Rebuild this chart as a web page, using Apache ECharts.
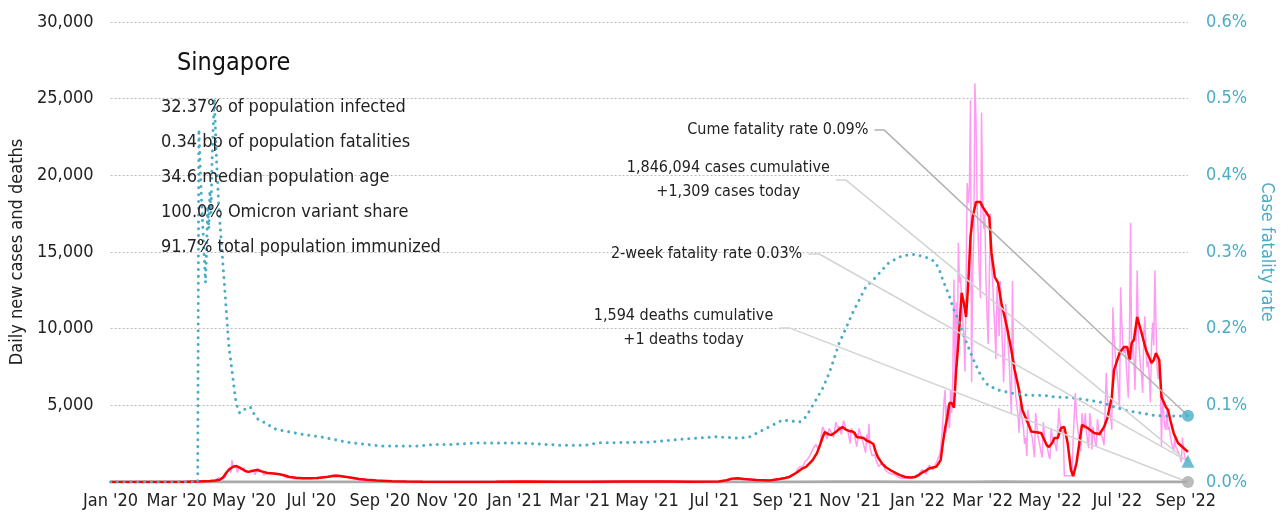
<!DOCTYPE html>
<html>
<head>
<meta charset="utf-8">
<title>Singapore COVID-19</title>
<script src="https://cdn.jsdelivr.net/npm/echarts@6/dist/echarts.min.js"></script>
<style>
  html, body { margin: 0; padding: 0; background: #ffffff; }
  #chart { width: 1284px; height: 520px; }
</style>
</head>
<body>
<div id="chart"></div>
<script>
// ---------- data ----------
const FIRST_DAY = '2020-01-01';
const LAST_DAY = '2022-09-03';
const MONTHS = ['Jan','Feb','Mar','Apr','May','Jun','Jul','Aug','Sep','Oct','Nov','Dec'];

const statLines = [
  '32.37% of population infected',
  '0.34 bp of population fatalities',
  '34.6 median population age',
  '100.0% Omicron variant share',
  '91.7% total population immunized'
];

const cumCases = 1846094;
const casesToday = 1309;
const cumDeaths = 1594;
const deathsToday = 1;
const twoWeekRate = 0.027;                 // % of cases, last 14 days
const cumRate = cumDeaths / cumCases * 100; // % of cases, all time

// 7-day average of new cases
const avgCases = [
  ['2020-01-01',0],['2020-02-01',2],['2020-02-20',4],['2020-03-10',10],['2020-03-20',35],['2020-03-31',60],
  ['2020-04-05',100],['2020-04-09',150],['2020-04-12',300],['2020-04-15',620],['2020-04-18',850],['2020-04-21',990],
  ['2020-04-24',1040],['2020-04-28',900],['2020-05-02',720],['2020-05-05',660],['2020-05-09',730],['2020-05-13',780],
  ['2020-05-17',690],['2020-05-22',590],['2020-05-28',560],['2020-06-02',510],['2020-06-07',420],['2020-06-11',330],
  ['2020-06-17',280],['2020-06-23',250],['2020-06-30',240],['2020-07-06',260],['2020-07-11',300],['2020-07-16',340],
  ['2020-07-22',400],['2020-07-27',390],['2020-08-02',330],['2020-08-08',260],['2020-08-13',200],['2020-08-20',140],
  ['2020-08-29',90],['2020-09-12',45],['2020-09-25',25],['2020-10-10',10],['2020-11-15',8],['2020-12-15',12],
  ['2021-01-10',25],['2021-02-10',20],['2021-03-10',15],['2021-04-10',25],['2021-05-05',25],['2021-05-20',40],
  ['2021-06-10',20],['2021-07-05',30],['2021-07-12',110],['2021-07-17',220],['2021-07-22',240],['2021-07-28',200],
  ['2021-08-08',130],['2021-08-20',100],['2021-08-29',190],['2021-09-03',260],['2021-09-07',330],['2021-09-13',590],
  ['2021-09-18',850],['2021-09-22',980],['2021-09-28',1430],['2021-10-02',1900],['2021-10-04',2280],['2021-10-07',2900],
  ['2021-10-09',3260],['2021-10-12',3120],['2021-10-15',3060],['2021-10-19',3260],['2021-10-22',3450],['2021-10-25',3590],
  ['2021-10-28',3420],['2021-10-31',3330],['2021-11-03',3290],['2021-11-05',3200],['2021-11-07',2930],['2021-11-10',2900],
  ['2021-11-13',2870],['2021-11-16',2700],['2021-11-19',2610],['2021-11-22',2480],['2021-11-24',2000],['2021-11-26',1630],
  ['2021-11-30',1200],['2021-12-03',980],['2021-12-08',750],['2021-12-12',590],['2021-12-16',450],['2021-12-21',330],
  ['2021-12-26',290],['2021-12-30',330],['2022-01-03',500],['2022-01-06',650],['2022-01-09',760],['2022-01-12',900],
  ['2022-01-15',950],['2022-01-18',1000],['2022-01-20',1200],['2022-01-22',1450],['2022-01-24',2540],['2022-01-26',3500],
  ['2022-01-28',4240],['2022-01-30',5150],['2022-02-01',5150],['2022-02-03',4850],['2022-02-05',7300],['2022-02-07',9070],
  ['2022-02-10',12330],['2022-02-12',11670],['2022-02-14',10760],['2022-02-16',12980],['2022-02-18',15980],['2022-02-20',17280],
  ['2022-02-23',18260],['2022-02-27',18260],['2022-03-01',17940],['2022-03-04',17610],['2022-03-07',17280],['2022-03-09',14940],
  ['2022-03-12',13370],['2022-03-15',12980],['2022-03-18',11670],['2022-03-23',10110],['2022-03-27',8610],['2022-03-30',7300],
  ['2022-04-03',6000],['2022-04-06',4700],['2022-04-11',3850],['2022-04-14',3300],['2022-04-17',3260],['2022-04-23',3200],
  ['2022-04-28',2410],['2022-04-30',2280],['2022-05-03',2540],['2022-05-05',2870],['2022-05-08',2870],['2022-05-11',3520],
  ['2022-05-14',3590],['2022-05-17',2540],['2022-05-20',780],['2022-05-22',380],['2022-05-25',1240],['2022-05-28',2740],
  ['2022-05-30',3720],['2022-06-04',3520],['2022-06-10',3200],['2022-06-15',3130],['2022-06-19',3590],['2022-06-22',4170],
  ['2022-06-26',5540],['2022-06-28',7300],['2022-07-03',8410],['2022-07-07',8800],['2022-07-10',8800],['2022-07-12',7960],
  ['2022-07-14',9070],['2022-07-16',9260],['2022-07-19',10760],['2022-07-23',9720],['2022-07-27',8610],['2022-08-01',7760],
  ['2022-08-03',7960],['2022-08-05',8410],['2022-08-08',7960],['2022-08-10',5540],['2022-08-14',4890],['2022-08-16',4700],
  ['2022-08-18',4040],['2022-08-21',3200],['2022-08-25',2540],['2022-08-30',2220],['2022-09-03',1960]
];

// reported new cases per day
const dailyCases = [
  ['2020-01-01',0],['2020-03-15',20],['2020-03-31',50],['2020-04-05',120],['2020-04-08',280],['2020-04-10',190],
  ['2020-04-12',230],['2020-04-14',330],['2020-04-15',450],['2020-04-16',730],['2020-04-17',620],['2020-04-18',940],
  ['2020-04-19',600],['2020-04-20',1430],['2020-04-21',1100],['2020-04-22',1030],['2020-04-23',1040],['2020-04-24',900],
  ['2020-04-25',620],['2020-04-26',930],['2020-04-28',800],['2020-05-01',930],['2020-05-03',650],['2020-05-05',630],
  ['2020-05-07',750],['2020-05-09',750],['2020-05-11',480],['2020-05-13',880],['2020-05-15',790],['2020-05-17',680],
  ['2020-05-19',450],['2020-05-21',570],['2020-05-24',640],['2020-05-27',530],['2020-05-30',510],['2020-06-03',520],
  ['2020-06-06',380],['2020-06-09',280],['2020-06-12',350],['2020-06-15',210],['2020-06-18',200],['2020-06-21',250],
  ['2020-06-24',200],['2020-06-27',220],['2020-07-01',210],['2020-07-04',280],['2020-07-07',200],['2020-07-10',360],
  ['2020-07-13',320],['2020-07-16',350],['2020-07-20',470],['2020-07-23',480],['2020-07-26',440],['2020-07-29',300],
  ['2020-08-01',360],['2020-08-04',300],['2020-08-07',250],['2020-08-10',200],['2020-08-14',110],['2020-08-18',100],
  ['2020-08-22',110],['2020-08-26',90],['2020-08-30',60],['2020-09-05',40],['2020-09-15',30],['2020-09-25',20],
  ['2020-10-10',10],['2020-11-01',10],['2020-12-01',10],['2021-01-01',25],['2021-02-01',20],['2021-03-01',15],
  ['2021-04-01',25],['2021-05-01',30],['2021-05-20',45],['2021-06-15',20],['2021-07-05',30],['2021-07-12',100],
  ['2021-07-16',250],['2021-07-19',180],['2021-07-22',190],['2021-07-25',150],['2021-07-29',200],['2021-08-02',140],
  ['2021-08-08',110],['2021-08-15',90],['2021-08-22',100],['2021-08-28',170],['2021-09-01',180],['2021-09-07',400],
  ['2021-09-10',500],['2021-09-13',650],['2021-09-15',900],['2021-09-17',1000],['2021-09-19',1000],['2021-09-21',1300],
  ['2021-09-23',1450],['2021-09-25',1650],['2021-09-27',1950],['2021-09-29',2250],['2021-10-01',2450],['2021-10-03',2100],
  ['2021-10-05',2600],['2021-10-07',3600],['2021-10-08',3650],['2021-10-09',3300],['2021-10-11',2800],['2021-10-13',3500],
  ['2021-10-15',3200],['2021-10-17',2900],['2021-10-19',3900],['2021-10-20',3850],['2021-10-21',3450],['2021-10-22',3650],
  ['2021-10-24',3100],['2021-10-26',4000],['2021-10-27',3800],['2021-10-28',3450],['2021-10-30',3300],['2021-11-01',2500],
  ['2021-11-02',3500],['2021-11-03',3500],['2021-11-05',3000],['2021-11-07',2300],['2021-11-09',3500],['2021-11-10',3500],
  ['2021-11-11',3000],['2021-11-13',2500],['2021-11-15',1900],['2021-11-16',3100],['2021-11-17',2500],['2021-11-18',3800],
  ['2021-11-19',2200],['2021-11-21',1700],['2021-11-23',1800],['2021-11-25',1300],['2021-11-27',1000],['2021-11-29',1200],
  ['2021-12-01',1100],['2021-12-03',750],['2021-12-06',600],['2021-12-09',500],['2021-12-12',450],['2021-12-15',300],
  ['2021-12-18',250],['2021-12-21',260],['2021-12-24',250],['2021-12-28',300],['2021-12-31',450],['2022-01-02',350],
  ['2022-01-03',600],['2022-01-04',650],['2022-01-05',800],['2022-01-06',850],['2022-01-07',700],['2022-01-08',600],
  ['2022-01-09',500],['2022-01-10',900],['2022-01-11',1000],['2022-01-12',1100],['2022-01-13',900],['2022-01-14',850],
  ['2022-01-15',800],['2022-01-16',700],['2022-01-17',1100],['2022-01-18',1150],['2022-01-19',1400],['2022-01-20',1600],
  ['2022-01-21',1800],['2022-01-22',2200],['2022-01-23',3000],['2022-01-24',4000],['2022-01-25',5300],['2022-01-26',6000],
  ['2022-01-27',3200],['2022-01-28',5000],['2022-01-29',4200],['2022-01-30',3500],['2022-01-31',6000],['2022-02-01',4500],
  ['2022-02-02',7000],['2022-02-03',13200],['2022-02-04',6500],['2022-02-05',11700],['2022-02-06',7500],['2022-02-07',15600],
  ['2022-02-08',13000],['2022-02-09',13400],['2022-02-10',11800],['2022-02-11',10500],['2022-02-12',9500],['2022-02-13',7200],
  ['2022-02-14',13000],['2022-02-15',19500],['2022-02-16',18200],['2022-02-17',19200],['2022-02-18',24900],['2022-02-19',6500],
  ['2022-02-20',13600],['2022-02-21',16000],['2022-02-22',26000],['2022-02-23',23600],['2022-02-24',18200],['2022-02-25',16000],
  ['2022-02-26',13600],['2022-02-27',12000],['2022-02-28',24100],['2022-03-01',18600],['2022-03-02',16500],['2022-03-03',17500],
  ['2022-03-04',13200],['2022-03-05',11000],['2022-03-06',9000],['2022-03-07',13200],['2022-03-08',17500],['2022-03-09',14000],
  ['2022-03-10',13200],['2022-03-11',11500],['2022-03-12',10000],['2022-03-13',8000],['2022-03-14',12800],['2022-03-15',11500],
  ['2022-03-16',9500],['2022-03-17',13100],['2022-03-18',11000],['2022-03-19',8700],['2022-03-20',6500],['2022-03-21',9000],
  ['2022-03-22',11600],['2022-03-23',10100],['2022-03-24',9000],['2022-03-25',8000],['2022-03-26',6000],['2022-03-27',4500],
  ['2022-03-28',13100],['2022-03-29',8000],['2022-03-30',7000],['2022-03-31',5600],['2022-04-01',5000],['2022-04-02',4400],
  ['2022-04-03',3200],['2022-04-04',5100],['2022-04-05',4500],['2022-04-06',4000],['2022-04-07',3500],['2022-04-08',2500],
  ['2022-04-09',2900],['2022-04-10',1700],['2022-04-11',4700],['2022-04-12',4000],['2022-04-13',3300],['2022-04-14',3400],
  ['2022-04-15',2900],['2022-04-16',2200],['2022-04-17',1600],['2022-04-18',4500],['2022-04-19',3800],['2022-04-20',3000],
  ['2022-04-21',2700],['2022-04-22',2600],['2022-04-23',1900],['2022-04-24',1600],['2022-04-25',3900],['2022-04-26',3100],
  ['2022-04-27',2600],['2022-04-28',2400],['2022-04-29',2100],['2022-04-30',1700],['2022-05-01',1500],['2022-05-02',3500],
  ['2022-05-03',3000],['2022-05-04',2800],['2022-05-05',2600],['2022-05-06',2400],['2022-05-07',2000],['2022-05-08',3300],
  ['2022-05-09',4800],['2022-05-10',3900],['2022-05-11',3500],['2022-05-12',3200],['2022-05-13',3400],['2022-05-14',400],
  ['2022-05-21',400],['2022-05-22',2800],['2022-05-24',5800],['2022-05-25',4300],['2022-05-26',3600],['2022-05-27',3000],
  ['2022-05-28',2300],['2022-05-29',2000],['2022-05-30',4500],['2022-05-31',3800],['2022-06-01',3500],['2022-06-02',4500],
  ['2022-06-03',3300],['2022-06-04',2700],['2022-06-05',2200],['2022-06-06',4500],['2022-06-07',3900],['2022-06-08',2100],
  ['2022-06-09',3600],['2022-06-10',3000],['2022-06-11',2600],['2022-06-12',2300],['2022-06-13',4100],['2022-06-14',3500],
  ['2022-06-15',3000],['2022-06-16',3200],['2022-06-17',3000],['2022-06-18',2700],['2022-06-19',2400],['2022-06-20',4800],
  ['2022-06-21',7100],['2022-06-22',5400],['2022-06-23',5000],['2022-06-24',4900],['2022-06-25',4200],['2022-06-26',3400],
  ['2022-06-27',11400],['2022-06-28',9500],['2022-06-29',8500],['2022-06-30',7500],['2022-07-01',7000],['2022-07-02',6000],
  ['2022-07-03',4800],['2022-07-04',12700],['2022-07-05',10500],['2022-07-06',9000],['2022-07-07',8400],['2022-07-08',8800],
  ['2022-07-09',7800],['2022-07-10',6500],['2022-07-11',5500],['2022-07-12',9500],['2022-07-13',16900],['2022-07-14',8000],
  ['2022-07-15',9300],['2022-07-16',8200],['2022-07-17',6000],['2022-07-18',9000],['2022-07-19',13800],['2022-07-20',9700],
  ['2022-07-21',9800],['2022-07-22',7500],['2022-07-23',6900],['2022-07-24',5800],['2022-07-25',9700],['2022-07-26',10800],
  ['2022-07-27',8500],['2022-07-28',7500],['2022-07-29',7900],['2022-07-30',6800],['2022-07-31',5200],['2022-08-01',9000],
  ['2022-08-02',10400],['2022-08-03',8900],['2022-08-04',13800],['2022-08-05',10400],['2022-08-06',7500],['2022-08-07',6700],
  ['2022-08-08',7500],['2022-08-09',6600],['2022-08-10',2300],['2022-08-11',5700],['2022-08-12',4500],['2022-08-13',3600],
  ['2022-08-14',3400],['2022-08-15',4700],['2022-08-16',3400],['2022-08-17',3600],['2022-08-18',3000],['2022-08-19',2600],
  ['2022-08-20',2300],['2022-08-21',2000],['2022-08-22',2900],['2022-08-23',2300],['2022-08-24',2200],['2022-08-25',2000],
  ['2022-08-26',1900],['2022-08-27',1600],['2022-08-28',1300],['2022-08-29',2900],['2022-08-30',2200],['2022-08-31',1700],
  ['2022-09-01',1400],['2022-09-02',1600],['2022-09-03',1309]
];

// 7-day average of new deaths
const avgDeaths = [
  ['2020-01-01',0],['2020-04-20',1],['2020-06-01',0],['2021-09-15',2],['2021-10-20',12],['2021-11-20',10],
  ['2021-12-31',2],['2022-02-20',8],['2022-03-15',10],['2022-04-20',2],['2022-07-25',6],['2022-09-03',1]
];

// cumulative case fatality rate, % of cases
const fatalityRate = [
  ['2020-01-01',0],['2020-03-20',0],['2020-03-21',0.46],['2020-03-22',0.42],['2020-03-23',0.38],['2020-03-24',0.35],
  ['2020-03-25',0.32],['2020-03-26',0.29],['2020-03-27',0.26],['2020-03-28',0.30],['2020-03-29',0.36],['2020-03-30',0.33],
  ['2020-03-31',0.38],['2020-04-01',0.35],['2020-04-02',0.42],['2020-04-03',0.46],['2020-04-04',0.50],['2020-04-06',0.42],
  ['2020-04-08',0.36],['2020-04-10',0.32],['2020-04-12',0.28],['2020-04-15',0.22],['2020-04-17',0.18],['2020-04-20',0.145],
  ['2020-04-23',0.11],['2020-04-25',0.097],['2020-04-27',0.09],['2020-05-01',0.094],['2020-05-04',0.098],['2020-05-07',0.097],
  ['2020-05-09',0.091],['2020-05-14',0.081],['2020-05-22',0.076],['2020-05-27',0.07],['2020-06-05',0.067],['2020-06-16',0.064],
  ['2020-06-28',0.061],['2020-07-09',0.059],['2020-07-20',0.056],['2020-08-02',0.052],['2020-08-14',0.05],['2020-09-01',0.047],
  ['2020-09-25',0.047],['2020-10-06',0.047],['2020-10-20',0.049],['2020-11-05',0.049],['2020-11-29',0.051],['2021-01-05',0.051],
  ['2021-02-10',0.048],['2021-03-06',0.048],['2021-03-18',0.051],['2021-05-04',0.052],['2021-06-03',0.056],['2021-07-03',0.059],
  ['2021-07-24',0.057],['2021-08-02',0.059],['2021-08-17',0.07],['2021-09-01',0.081],['2021-09-16',0.078],['2021-09-22',0.085],
  ['2021-10-01',0.107],['2021-10-07',0.122],['2021-10-13',0.142],['2021-10-17',0.159],['2021-10-22',0.181],['2021-10-28',0.2],
  ['2021-11-03',0.22],['2021-11-09',0.237],['2021-11-15',0.254],['2021-11-24',0.267],['2021-12-06',0.286],['2021-12-18',0.295],
  ['2021-12-30',0.297],['2022-01-11',0.292],['2022-01-17',0.287],['2022-01-21',0.276],['2022-01-24',0.263],['2022-01-29',0.246],
  ['2022-02-02',0.228],['2022-02-07',0.211],['2022-02-11',0.194],['2022-02-16',0.176],['2022-02-22',0.155],['2022-02-28',0.137],
  ['2022-03-06',0.126],['2022-03-15',0.12],['2022-03-27',0.116],['2022-04-11',0.113],['2022-04-26',0.113],['2022-05-05',0.111],
  ['2022-05-20',0.11],['2022-06-04',0.107],['2022-06-16',0.104],['2022-06-28',0.098],['2022-07-10',0.093],['2022-07-22',0.09],
  ['2022-08-03',0.087],['2022-08-15',0.086],['2022-08-27',0.086],[LAST_DAY, cumRate]
];

// ---------- helpers ----------
function dayList(from, to) {
  const out = [];
  const d = new Date(from + 'T00:00:00Z');
  const end = new Date(to + 'T00:00:00Z');
  while (d <= end) {
    out.push(d.toISOString().slice(0, 10));
    d.setUTCDate(d.getUTCDate() + 1);
  }
  return out;
}
const days = dayList(FIRST_DAY, LAST_DAY);
const fmtInt = v => Math.round(v).toLocaleString('en-US');

const FONT = "'DejaVu Sans Condensed','Liberation Sans Narrow',sans-serif";
const TEAL = '#4bacc6';
const INK = '#222222';
const NOTE_SIZE = 16;

const measureCtx = document.createElement('canvas').getContext('2d');
function textWidth(str, size) {
  measureCtx.font = size + 'px ' + FONT;
  return Math.ceil(measureCtx.measureText(str).width);
}

// left axis spans 0..30,000 and right axis 0..0.6 %, so a rate r sits at r * 50,000 on the left scale
const LEFT_MAX = 30000, RIGHT_MAX = 0.6;
const rateOnLeft = r => r * LEFT_MAX / RIGHT_MAX;

// callouts: text, where the leader starts (date range of the short flat stub and its height on the left axis), target value
const callouts = [
  { lines: ['Cume fatality rate ' + cumRate.toFixed(2) + '%'], from: '2021-11-23', to: '2021-12-02', at: 22950,
    target: rateOnLeft(cumRate), color: '#b3b3b3' },
  { lines: [fmtInt(cumCases) + ' cases cumulative', '+' + fmtInt(casesToday) + ' cases today'], from: '2021-10-19', to: '2021-10-28', at: 19700,
    target: casesToday, color: '#d3d3d3' },
  { lines: ['2-week fatality rate ' + twoWeekRate.toFixed(2) + '%'], from: '2021-09-24', to: '2021-10-04', at: 14870,
    target: rateOnLeft(twoWeekRate), color: '#d3d3d3' },
  { lines: [fmtInt(cumDeaths) + ' deaths cumulative', '+' + deathsToday + ' deaths today'], from: '2021-08-29', to: '2021-09-07', at: 10050,
    target: deathsToday, color: '#d3d3d3' }
];

function calloutSeries(c) {
  const label = {
    show: true, position: 'left', distance: 6,
    fontFamily: FONT, fontSize: NOTE_SIZE, color: INK, lineHeight: 24
  };
  if (c.lines.length > 1) {
    const w = Math.max(...c.lines.map(t => textWidth(t, NOTE_SIZE)));
    label.formatter = c.lines.map(t => '{a|' + t + '}').join('\n');
    label.rich = { a: { width: w, align: 'center', fontFamily: FONT, fontSize: NOTE_SIZE, color: INK, lineHeight: 24 } };
  } else {
    label.formatter = c.lines[0];
  }
  return {
    type: 'line', z: 6, silent: true,
    symbol: 'circle', symbolSize: 0, showSymbol: true,
    lineStyle: { color: c.color, width: 1.5 },
    itemStyle: { color: c.color },
    label: { show: false },
    data: [
      { value: [c.from, c.at], label },
      [c.to, c.at],
      [LAST_DAY, c.target]
    ]
  };
}

// ---------- chart ----------
const chart = echarts.init(document.getElementById('chart'), null, { renderer: 'canvas' });

chart.setOption({
  animation: false,
  backgroundColor: '#ffffff',
  textStyle: { fontFamily: FONT },
  title: [
    { text: 'Singapore', left: 177, top: 51, padding: 0,
      textStyle: { fontFamily: FONT, fontSize: 25, fontWeight: 'normal', color: '#111111' } },
    { text: statLines.join('\n'), left: 161, top: 90, padding: 0,
      textStyle: { fontFamily: FONT, fontSize: 18, fontWeight: 'normal', color: INK, lineHeight: 35 } }
  ],
  grid: { left: 109, right: 89, top: 22, bottom: 38, containLabel: false },
  xAxis: {
    type: 'category', data: days, boundaryGap: false,
    axisLine: { show: false }, axisTick: { show: false },
    splitLine: { show: false },
    axisLabel: {
      interval: (i, v) => v.slice(8) === '01' && (+v.slice(5, 7)) % 2 === 1,
      formatter: v => MONTHS[+v.slice(5, 7) - 1] + " '" + v.slice(2, 4),
      fontFamily: FONT, fontSize: 18, color: INK, margin: 10
    }
  },
  yAxis: [
    {
      type: 'value', min: 0, max: LEFT_MAX, interval: 5000,
      name: 'Daily new cases and deaths', nameLocation: 'middle', nameGap: 82, nameRotate: 90,
      nameTextStyle: { fontFamily: FONT, fontSize: 18, color: INK },
      axisLine: { show: false }, axisTick: { show: false },
      axisLabel: { formatter: v => v === 0 ? '' : fmtInt(v), fontFamily: FONT, fontSize: 18, color: INK, margin: 17 },
      splitLine: { show: true, lineStyle: { color: '#bdbdbd', width: 1, type: [2, 2] } }
    },
    {
      type: 'value', min: 0, max: RIGHT_MAX, interval: 0.1, position: 'right',
      name: 'Case fatality rate', nameLocation: 'middle', nameGap: 64, nameRotate: -90,
      nameTextStyle: { fontFamily: FONT, fontSize: 18, color: TEAL },
      axisLine: { show: false }, axisTick: { show: false },
      axisLabel: { formatter: v => v.toFixed(1) + '%', fontFamily: FONT, fontSize: 18, color: TEAL, margin: 18 },
      splitLine: { show: false }
    }
  ],
  series: [
    { name: 'Daily deaths', type: 'line', data: avgDeaths, symbol: 'none', z: 1, silent: true,
      lineStyle: { color: '#aaaaaa', width: 3 } },
    { name: 'Daily cases', type: 'line', data: dailyCases, symbol: 'none', z: 2, silent: true,
      lineStyle: { color: '#ff9cf2', width: 1.5 } },
    { name: 'Cases, 7-day average', type: 'line', data: avgCases, symbol: 'none', z: 3, silent: true,
      lineStyle: { color: '#ff0000', width: 2.5 } },
    { name: 'Case fatality rate', type: 'line', yAxisIndex: 1, data: fatalityRate, symbol: 'none', z: 4, silent: true,
      lineStyle: { color: TEAL, width: 3, type: [0.01, 6.8], cap: 'round' } },
    ...callouts.map(calloutSeries),
    { type: 'scatter', yAxisIndex: 1, z: 8, silent: true, symbol: 'circle', symbolSize: 12,
      itemStyle: { color: TEAL }, data: [[LAST_DAY, cumRate]] },
    { type: 'scatter', yAxisIndex: 1, z: 8, silent: true, symbol: 'triangle', symbolSize: 13,
      itemStyle: { color: TEAL }, data: [[LAST_DAY, twoWeekRate]] },
    { type: 'scatter', z: 8, silent: true, symbol: 'circle', symbolSize: 12,
      itemStyle: { color: '#aaaaaa' }, data: [[LAST_DAY, deathsToday]] }
  ]
});
</script>
</body>
</html>
